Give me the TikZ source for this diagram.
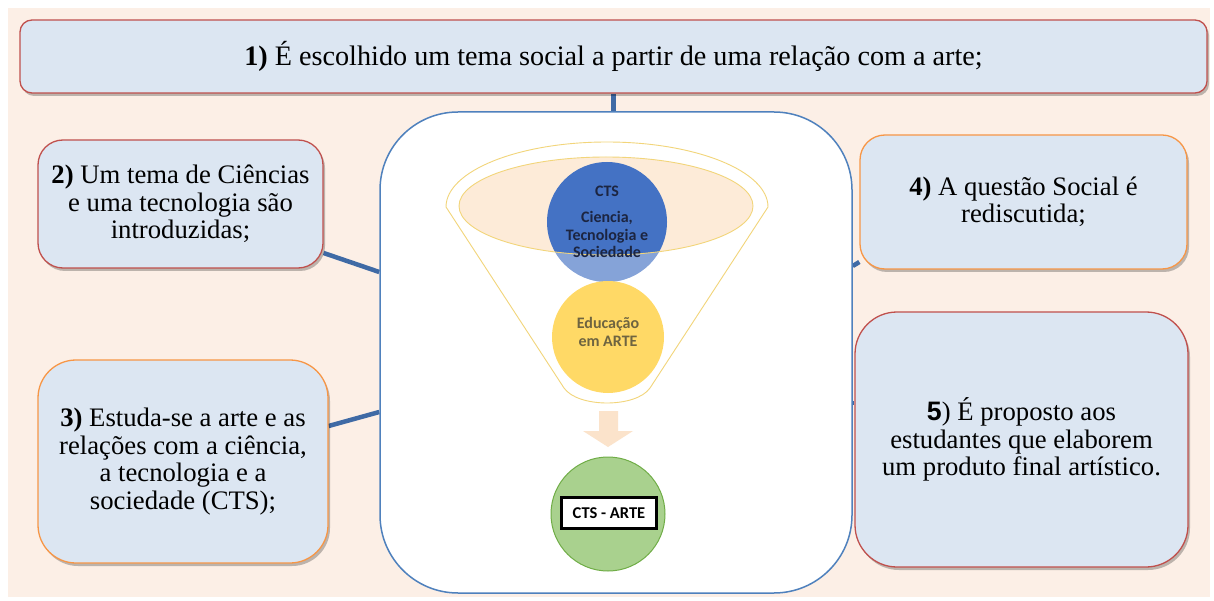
\documentclass[tikz,border=0pt]{standalone}
\usepackage{fontspec}
\setmainfont{Liberation Serif}
\newfontfamily\calib{Carlito}
\newfontfamily\arialf{Liberation Sans}
\usetikzlibrary{shadows}
\pgfdeclarelayer{bglow}
\pgfdeclarelayer{background}
\pgfsetlayers{bglow,background,main}
\definecolor{bgpeach}{HTML}{FCEFE6}
\definecolor{boxfill}{HTML}{DCE6F2}
\definecolor{boxred}{HTML}{C0504D}
\definecolor{boxorange}{HTML}{F79646}
\definecolor{cblue}{HTML}{4F81BD}
\definecolor{connblue}{HTML}{3F6AA5}
\definecolor{funnelline}{HTML}{F2D57A}
\definecolor{peachfill}{HTML}{FDEBD8}
\definecolor{circblue}{HTML}{4472C4}
\definecolor{gold}{HTML}{FFD966}
\definecolor{arrowpeach}{HTML}{FBE3CB}
\definecolor{greenfill}{HTML}{A9D18E}
\definecolor{greenline}{HTML}{70AD47}
\definecolor{navytext}{HTML}{1C2541}
\definecolor{olivetext}{HTML}{6E6440}
\begin{document}
\begin{tikzpicture}[x=1pt,y=-1pt,
  txt/.style={font=\fontsize{26.7}{27.5}\selectfont, align=center, text=black},
  box/.style={txt, fill=boxfill, line width=1.3pt, inner sep=0pt,
    drop shadow={shadow xshift=2pt,shadow yshift=-3pt,opacity=0.25,fill=black}},
  redbox/.style={box, draw=boxred},
  orabox/.style={box, draw=boxorange},
  conn/.style={draw=connblue, line width=4.5pt},
  funnel/.style={draw=funnelline, line width=0.9pt},
  lab/.style={font=\calib\bfseries\fontsize{16}{17.5}\selectfont, align=center, inner sep=0pt}
]
\useasboundingbox (0,0) rectangle (1214,601);
\begin{pgfonlayer}{bglow}
\fill[bgpeach] (8,8) rectangle (1210,597);
\end{pgfonlayer}

% central box
\node[draw=cblue, fill=white, line width=1.5pt, rounded corners=78pt,
  minimum width=472pt, minimum height=481pt] (cbox) at (616,352.5) {};

% outer boxes
\node[redbox, rounded corners=12pt, minimum width=1187pt, minimum height=73pt,
  font=\fontsize{28.2}{29}\selectfont] (b1) at (613.5,56.5)
  {\textbf{1)} É escolhido um tema social a partir de uma relação com a arte;};
\node[redbox, rounded corners=25pt, minimum width=285pt, minimum height=128pt] (b2) at (180.5,204)
  {\textbf{2)} Um tema de Ciências\\e uma tecnologia são\\introduzidas;};
\node[orabox, rounded corners=38pt, minimum width=290pt, minimum height=203pt] (b3) at (183,461.5)
  {\textbf{3)} Estuda-se a arte e as\\relações com a ciência,\\a tecnologia e a\\sociedade (CTS);};
\node[orabox, rounded corners=25pt, minimum width=327pt, minimum height=134pt] (b4) at (1023.5,202)
  {\textbf{4)} A questão Social é\\rediscutida;};
\node[redbox, rounded corners=42pt, minimum width=333pt, minimum height=255pt] (b5) at (1021.5,439.5)
  {{\arialf\bfseries 5})~É proposto aos\\estudantes que elaborem\\um produto final artístico.};

% connectors
\begin{pgfonlayer}{background}
\draw[conn] (b1.south) -- (b1.south |- cbox.north);
\draw[conn] ([yshift=-49pt]b2.east) -- ([yshift=80.5pt]cbox.west);
\draw[conn] ([yshift=35.5pt]b3.east) -- ([yshift=-59.5pt]cbox.west);
\draw[conn] ([yshift=-60pt]b4.west) -- ([yshift=86.5pt]cbox.east);
\draw[conn] ([yshift=36.5pt]b5.west) -- ([yshift=-50.5pt]cbox.east);
\end{pgfonlayer}

% funnel
\draw[funnel, fill=white] (446,207) arc[start angle=180,end angle=360,x radius=161,y radius=65]
  -- (650,388) .. controls (636,408) and (578,408) .. (564,388) -- cycle;
\fill[peachfill] (606,206) ellipse[x radius=147, y radius=49];
\node[circle, fill=circblue, minimum size=120pt, inner sep=0pt] (cts) at (607,222) {};
\begin{scope}
  \clip (607,222) circle[radius=60];
  \fill[white, opacity=0.35, even odd rule] (440,140) rectangle (780,300)
    (606,206) ellipse[x radius=147, y radius=49];
\end{scope}
\draw[funnel] (606,206) ellipse[x radius=147, y radius=49];
\node[circle, fill=gold, minimum size=112pt, inner sep=0pt] (edu) at (608,337) {};

\node[lab, text=navytext] (ctst) at (607,191) {CTS};
\node[lab, text=navytext] (ctsl) at (607,234.5) {Ciencia,\\Tecnologia e\\Sociedade};
\node[lab, text=olivetext] (edul) at (608,332) {Educação\\em ARTE};

% arrow
\fill[arrowpeach] (599,411) -- (618,411) -- (618,431) -- (633,431) -- (608,447)
  -- (583,431) -- (599,431) -- cycle;

% green circle
\node[circle, fill=greenfill, draw=greenline, line width=1pt, minimum size=114pt, inner sep=0pt] (gc) at (608,514) {};
\node[draw=black, line width=2.5pt, fill=white, minimum width=95pt, minimum height=31pt,
  inner sep=0pt, font=\calib\bfseries\fontsize{16.5}{17}\selectfont] (ctsarte) at (609,513) {CTS - ARTE};
\end{tikzpicture}
\end{document}
